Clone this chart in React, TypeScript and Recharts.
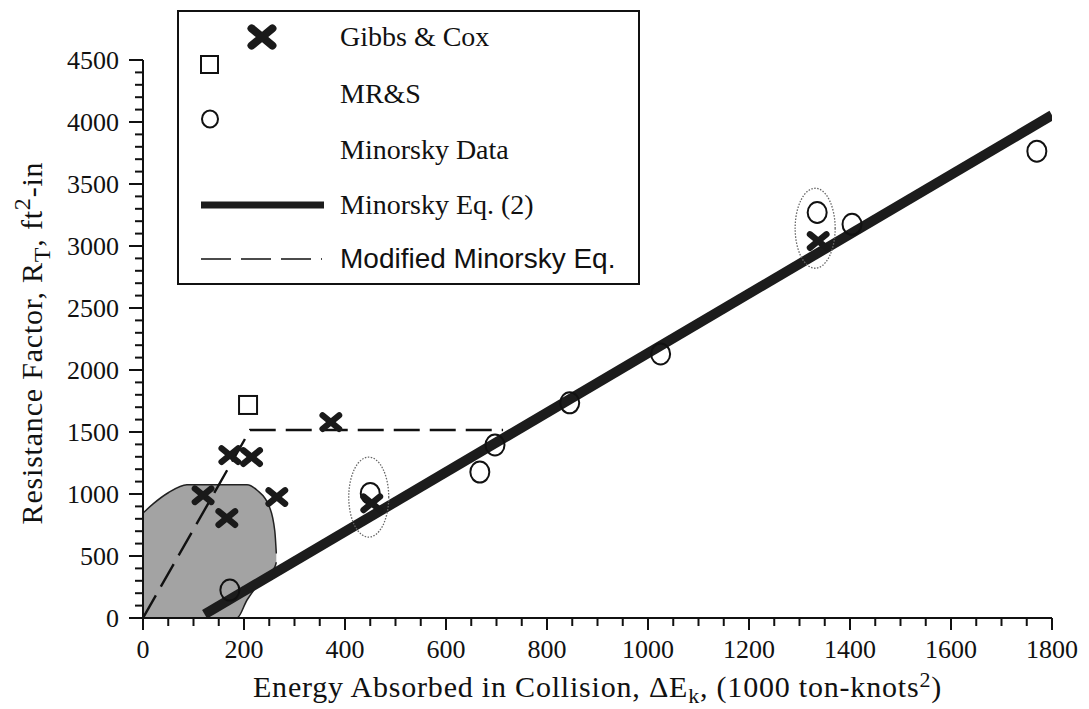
import React from 'react';
import { ComposedChart, XAxis, YAxis, Line, Scatter, Area, Legend } from 'recharts';

// ---- data ----
const gibbsX = [119, 172, 215, 166, 265, 372, 453, 1337];
const gibbsY = [990, 1314, 1298, 806, 976, 1580, 925, 3040];

const mrsX = [208];
const mrsY = [1718];

const minorskyX = [172, 450, 667, 697, 845, 1025, 1335, 1404, 1770];
const minorskyY = [225, 1005, 1177, 1395, 1735, 2130, 3270, 3175, 3765];

const eqX = [122, 1800];
const eqY = [30, 4055];

const modX = [0, 212, 713];
const modY = [0, 1516, 1516];

const blobX = [0, 20, 50, 87, 186, 206, 226, 250, 261, 264];
const blobHigh = [846, 920, 1010, 1075, 1075, 1075, 1030, 900, 700, 520];
const blobLow = [0, 0, 0, 0, 0, 145, 260, 360, 410, 450];

const circledX = [447, 1331];
const circledY = [975, 3143];

const xMajorTicks = [0, 200, 400, 600, 800, 1000, 1200, 1400, 1600, 1800];
const yMajorTicks = [0, 500, 1000, 1500, 2000, 2500, 3000, 3500, 4000, 4500];
const xMinorStep = 50;
const yMinorStep = 100;

// ---- derived tables ----
const zip = (xs: number[], ys: number[]) => xs.map((x, i) => ({ x, y: ys[i] }));
const gibbsData = zip(gibbsX, gibbsY);
const mrsData = zip(mrsX, mrsY);
const minorskyData = zip(minorskyX, minorskyY);
const eqData = zip(eqX, eqY);
const modData = zip(modX, modY);
const circledData = zip(circledX, circledY);
const blobData = blobX.map((x, i) => ({ x, range: [blobLow[i], blobHigh[i]] }));

const xTicks: number[] = [];
for (let v = 0; v <= 1800; v += xMinorStep) xTicks.push(v);
const yTicks: number[] = [];
for (let v = 0; v <= 4500; v += yMinorStep) yTicks.push(v);

const INK = '#111';
const SERIF = '"Liberation Serif", "Times New Roman", serif';
const SANS = '"Liberation Sans", Arial, sans-serif';

const XTick = (props: any) => {
  const { x, y, payload } = props;
  const major = xMajorTicks.includes(payload.value);
  return (
    <g>
      <line x1={x} y1={y} x2={x} y2={y + (major ? 12 : 8)} stroke={INK} strokeWidth={2} />
      {major && (
        <text x={x} y={y + 40} textAnchor="middle" fontFamily={SERIF} fontSize={26} fill={INK}>
          {payload.value}
        </text>
      )}
    </g>
  );
};

const YTick = (props: any) => {
  const { x, y, payload } = props;
  const major = yMajorTicks.includes(payload.value);
  return (
    <g>
      <line x1={x - (major ? 14 : 8)} y1={y} x2={x} y2={y} stroke={INK} strokeWidth={2} />
      {major && (
        <text x={x - 24} y={y + 9} textAnchor="end" fontFamily={SERIF} fontSize={26} fill={INK}>
          {payload.value}
        </text>
      )}
    </g>
  );
};

const YLabel = (props: any) => {
  const vb = props.viewBox || { x: 0, y: 52, width: 135, height: 558 };
  const cx = 34;
  const cy = vb.y + vb.height / 2 + 4;
  return (
    <text
      x={cx}
      y={cy}
      transform={`rotate(-90 ${cx} ${cy})`}
      textAnchor="middle"
      fontFamily={SERIF}
      fontSize={30}
      letterSpacing={0.8}
      fill={INK}
    >
      Resistance Factor, R
      <tspan dy={8} fontSize={24}>T</tspan>
      <tspan dy={-8}>, ft</tspan>
      <tspan dy={-12} fontSize={24}>2</tspan>
      <tspan dy={12}>-in</tspan>
    </text>
  );
};

const XLabel = (props: any) => {
  const vb = props.viewBox || { x: 135, y: 610, width: 909, height: 91 };
  const cx = vb.x + vb.width / 2;
  const cy = 689;
  return (
    <text x={cx} y={cy} textAnchor="middle" fontFamily={SERIF} fontSize={30} letterSpacing={0.8} fill={INK}>
      Energy Absorbed in Collision, ΔE
      <tspan dy={6} fontSize={22}>k</tspan>
      <tspan dy={-6}>, (1000 ton-knots</tspan>
      <tspan dy={-10} fontSize={22}>2</tspan>
      <tspan dy={10}>)</tspan>
    </text>
  );
};

const xPath = (cx: number, cy: number, s: number) => (
  <g stroke="#1a1a1a" strokeWidth={s * 0.42} strokeLinecap="round">
    <line x1={cx - s * 0.55} y1={cy - s * 0.45} x2={cx + s * 0.55} y2={cy + s * 0.45} />
    <line x1={cx - s * 0.55} y1={cy + s * 0.45} x2={cx + s * 0.55} y2={cy - s * 0.45} />
  </g>
);

const XMark = (props: any) => {
  const { cx, cy } = props;
  if (cx == null || cy == null) return <g />;
  return xPath(cx, cy, 15);
};

const SquareMark = (props: any) => {
  const { cx, cy } = props;
  if (cx == null || cy == null) return <g />;
  return <rect x={cx - 9} y={cy - 9} width={18} height={18} fill="#fff" stroke={INK} strokeWidth={2} />;
};

const CircleMark = (props: any) => {
  const { cx, cy } = props;
  if (cx == null || cy == null) return <g />;
  return <ellipse cx={cx} cy={cy} rx={9.5} ry={10.5} fill="none" stroke={INK} strokeWidth={2} />;
};

const Loop = (props: any) => {
  const { cx, cy } = props;
  if (cx == null || cy == null) return <g />;
  return (
    <ellipse cx={cx} cy={cy} rx={20} ry={40} fill="none" stroke="#666" strokeWidth={1.3} strokeDasharray="1.5 1.5" />
  );
};

const BOX_W = 463;
const BOX_H = 275;

const LegendBox = () => {
  const txt = (left: number, top: number, s: string, font = SERIF, size = 28) => (
    <div
      style={{
        position: 'absolute',
        left,
        top,
        transform: 'translateY(-50%)',
        fontFamily: font,
        fontSize: size,
        color: INK,
        whiteSpace: 'nowrap',
        lineHeight: 1,
      }}
    >
      {s}
    </div>
  );
  return (
    <div
      style={{
        position: 'relative',
        width: BOX_W,
        height: BOX_H,
        border: `2px solid ${INK}`,
        boxSizing: 'border-box',
        background: '#fff',
      }}
    >
      <svg width={BOX_W} height={BOX_H} style={{ position: 'absolute', left: 0, top: 0 }}>
        {xPath(83, 25, 19)}
        <rect x={22} y={44} width={17} height={17} fill="#fff" stroke={INK} strokeWidth={2} />
        <ellipse cx={31} cy={107} rx={8} ry={8.5} fill="none" stroke={INK} strokeWidth={2} />
        <line x1={22} y1={193} x2={145} y2={193} stroke="#1c1c1c" strokeWidth={7} />
        <line x1={22} y1={247} x2={143} y2={247} stroke={INK} strokeWidth={1.5} strokeDasharray="30 10" />
      </svg>
      {txt(161, 25, 'Gibbs & Cox')}
      {txt(161, 82, 'MR&S')}
      {txt(161, 138, 'Minorsky Data')}
      {txt(161, 193, 'Minorsky Eq. (2)')}
      {txt(161, 247, 'Modified Minorsky Eq.', SANS, 28)}
    </div>
  );
};

export default function App() {
  return (
    <div style={{ width: 1081, height: 701, background: '#fff' }}>
      <ComposedChart
        width={1081}
        height={701}
        margin={{ top: 52, right: 37, left: 0, bottom: 0 }}
        style={{ overflow: 'visible' }}
      >
        <XAxis
          type="number"
          dataKey="x"
          domain={[0, 1800]}
          ticks={xTicks}
          interval={0}
          tick={<XTick />}
          tickLine={false}
          tickSize={0}
          tickMargin={0}
          axisLine={{ stroke: INK, strokeWidth: 2 }}
          height={91}
          allowDataOverflow
          label={<XLabel />}
        />
        <YAxis
          type="number"
          dataKey="y"
          domain={[0, 4500]}
          ticks={yTicks}
          interval={0}
          tick={<YTick />}
          tickLine={false}
          tickSize={0}
          tickMargin={0}
          axisLine={{ stroke: INK, strokeWidth: 2 }}
          width={135}
          allowDataOverflow
          label={<YLabel />}
        />
        <Legend
          layout="vertical"
          align="center"
          verticalAlign="middle"
          content={<LegendBox />}
          wrapperStyle={{ left: 169, top: 2, width: BOX_W, height: BOX_H }}
        />
        <Area
          data={blobData}
          dataKey="range"
          type="monotone"
          fill="#a3a3a3"
          fillOpacity={1}
          stroke="#222"
          strokeWidth={1.5}
          isAnimationActive={false}
          legendType="none"
        />
        <Scatter data={circledData} dataKey="y" shape={<Loop />} isAnimationActive={false} legendType="none" />
        <Line
          data={modData}
          dataKey="y"
          type="linear"
          stroke={INK}
          strokeWidth={2.4}
          strokeDasharray="26 10"
          dot={false}
          isAnimationActive={false}
          legendType="none"
        />
        <Line
          data={eqData}
          dataKey="y"
          type="linear"
          stroke="#1c1c1c"
          strokeWidth={10}
          dot={false}
          isAnimationActive={false}
          legendType="none"
        />
        <Scatter data={minorskyData} dataKey="y" shape={<CircleMark />} isAnimationActive={false} legendType="none" />
        <Scatter data={mrsData} dataKey="y" shape={<SquareMark />} isAnimationActive={false} legendType="none" />
        <Scatter data={gibbsData} dataKey="y" shape={<XMark />} isAnimationActive={false} legendType="none" />
      </ComposedChart>
    </div>
  );
}
